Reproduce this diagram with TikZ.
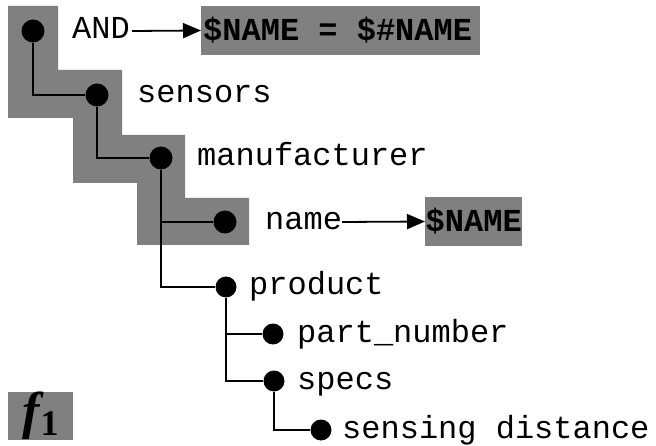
\documentclass[tikz,border=0pt]{standalone}
\usepackage{fontspec}
\setmainfont{Liberation Serif}
\setmonofont{Liberation Mono}
\usetikzlibrary{arrows.meta}
\definecolor{midgray}{gray}{0.5}
\tikzset{
  treedot/.style={circle,fill=black,draw=none,minimum width=23pt,minimum height=23pt,inner sep=0pt},
  lowdot/.style={circle,fill=black,draw=none,minimum width=20pt,minimum height=21pt,inner sep=0pt},
  elname/.style={anchor=base west,inner sep=0pt,font=\fontsize{32}{32}\selectfont\ttfamily},
  valbox/.style={anchor=west,fill=midgray,inner ysep=0pt,minimum height=49pt,
    font=\fontsize{32}{32}\selectfont\ttfamily\bfseries},
  branch/.style={line width=2pt},
  pointer/.style={line width=1.8pt,-{Triangle[length=18pt,width=15pt]}}
}
\begin{document}
\begin{tikzpicture}[x=1pt,y=-1pt]
\useasboundingbox (0,0) rectangle (656,446);
% stepped background behind the first levels
\fill[midgray] (8,6) -- (58,6) -- (58,70) -- (122,70) -- (122,135) -- (185,135)
  -- (185,198) -- (249,198) -- (249,245) -- (137,245) -- (137,183) -- (73,183)
  -- (73,118) -- (8,118) -- cycle;
% tree nodes
\node[treedot] (d0) at (33,31) {};
\node[treedot] (d1) at (97,95) {};
\node[treedot] (d2) at (161,158) {};
\node[treedot] (d3) at (225,222) {};
\node[lowdot] (d4) at (226,287) {};
\node[lowdot] (d5) at (273,334) {};
\node[lowdot] (d6) at (274,381) {};
\node[lowdot] (d7) at (321,430) {};
% element names
\node[elname] (tand) at (72,39) {AND};
\node[elname] (t1) at (137,103) {sensors};
\node[elname] (t2) at (197,166) {manufacturer};
\node[elname] (t3) at (265,230) {name};
\node[elname] (t4) at (249,295) {product};
\node[elname] (t5) at (297,342) {part\_number};
\node[elname] (t6) at (297,389) {specs};
\node[elname] (t7) at (342,438) {sensing distance};
% bound values
\node[valbox,inner xsep=2pt] (v0) at (201,30.5)
  {\makebox[275pt][l]{\$NAME = \$\#NAME}};
\node[valbox,inner xsep=0.5pt] (v1) at (425,221.5) {\$NAME};
% tree edges
\draw[branch] (d0) |- (d1);
\draw[branch] (d1) |- (d2);
\draw[branch] (d2) |- (d3);
\draw[branch] (d2) |- (d4);
\draw[branch] (d4) |- (d5);
\draw[branch] (d4) |- (d6);
\draw[branch] (d6) |- (d7);
% bindings
\coordinate (a0) at (132,31);
\coordinate (a1) at (342,222);
\draw[pointer] (a0) -- (v0.west);
\draw[pointer] (a1) -- (v1.west);
% formula tag
\node[fill=midgray,minimum width=65pt,minimum height=43pt,inner sep=0pt,anchor=north west]
  (tag) at (8,392) {\fontsize{52}{52}\selectfont\textbf{\textit{f}}\kern-4pt\raisebox{-7pt}{\fontsize{36}{36}\selectfont\textbf{1}}};
\end{tikzpicture}
\end{document}
